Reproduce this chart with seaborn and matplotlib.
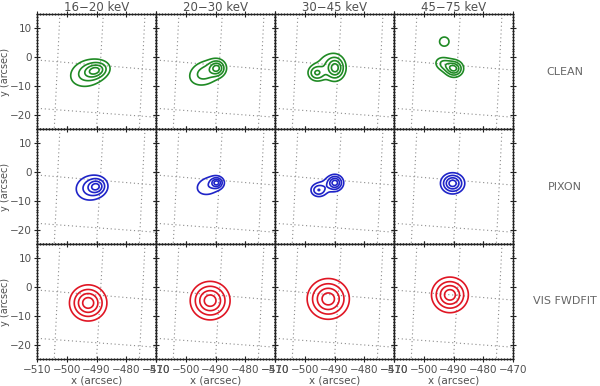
import numpy as np
import matplotlib
matplotlib.use("Agg")
import matplotlib.pyplot as plt
from matplotlib.ticker import MultipleLocator
import seaborn as sns

# energy bands (columns) and imaging methods (rows)
bands = ["16\u221220 keV", "20\u221230 keV", "30\u221245 keV", "45\u221275 keV"]
methods = ["CLEAN", "PIXON", "VIS FWDFIT"]
colors = ["#1f8a24", "#1f24c8", "#e01624"]

# source components per panel: (x0, y0, sigma_x, sigma_y, angle_deg, amp)
clean_src = [
    [(-490.2, -4.6, 2.4, 1.6, 15, 1.0), (-493.0, -5.6, 4.0, 3.0, 20, 0.65)],
    [(-489.5, -3.8, 1.6, 1.6, 0, 1.0), (-493.5, -5.5, 3.6, 2.6, 25, 0.6)],
    [(-489.7, -3.8, 1.8, 2.3, 0, 1.0), (-496.0, -5.5, 1.7, 1.6, 0, 0.7),
     (-492.0, -3.0, 3.2, 3.2, 0, 0.3)],
    [(-489.8, -4.0, 1.7, 1.6, 0, 1.0), (-493.0, -2.5, 2.0, 1.5, -20, 0.5),
     (-493.1, 5.4, 1.3, 1.3, 0, 0.35)],
]
pixon_src = [
    [(-490.0, -5.0, 1.8, 1.6, 15, 1.0), (-492.0, -5.5, 3.3, 2.8, 15, 0.7)],
    [(-489.6, -3.7, 1.2, 1.1, 0, 1.0), (-492.3, -4.8, 3.2, 2.3, 20, 0.4)],
    [(-489.8, -3.7, 1.5, 1.5, 0, 1.0), (-495.4, -6.3, 1.5, 1.3, 0, 0.55),
     (-493.0, -4.8, 2.5, 2.0, 20, 0.2)],
    [(-490.3, -3.9, 2.1, 1.9, 0, 1.0)],
]
fwdfit_src = [
    [(-492.8, -5.5, 3.23, 3.23, 0, 1.0)],
    [(-491.8, -4.7, 3.44, 3.44, 0, 1.0)],
    [(-492.1, -4.1, 3.64, 3.64, 0, 1.0)],
    [(-491.2, -2.7, 3.18, 3.18, 0, 1.0)],
]
sources = [clean_src, pixon_src, fwdfit_src]
levels = [0.15, 0.35, 0.6, 0.85]

# heliographic grid (dotted), straight approximations
lat_y_left = [-1.0, -17.8]
lat_y_right = [-4.5, -20.9]
lon_x_top = [-502.3, -487.7, -473.7]
lon_x_bottom = [-504.2, -490.0, -475.6]

xlim = (-510, -470)
ylim = (-25, 15)
xticks = [-510, -500, -490, -480, -470]
yticks = [-20, -10, 0, 10]


def model(X, Y, comps):
    z = np.zeros_like(X)
    for x0, y0, sx, sy, ang, amp in comps:
        a = np.deg2rad(ang)
        dx, dy = X - x0, Y - y0
        u = dx * np.cos(a) + dy * np.sin(a)
        v = -dx * np.sin(a) + dy * np.cos(a)
        z += amp * np.exp(-0.5 * ((u / sx) ** 2 + (v / sy) ** 2))
    return z / z.max()


sns.set_theme(style="ticks")
plt.rcParams["font.family"] = ["DejaVu Sans"]
text_col = "#505050"

fig = plt.figure(figsize=(6, 3.86), dpi=100)
W, H = 600, 386
left0, top0 = 37, 14
pw, ph = 119, 115

xg = np.linspace(-510, -470, 401)
yg = np.linspace(-25, 15, 401)
X, Y = np.meshgrid(xg, yg)

for r in range(3):
    for c in range(4):
        x_px = left0 + c * pw
        y_px = top0 + r * ph
        ax = fig.add_axes([x_px / W, 1 - (y_px + ph) / H, pw / W, ph / H])

        for yl, yr in zip(lat_y_left, lat_y_right):
            ax.plot(xlim, [yl, yr], ls=(0, (1, 2.5)), color="#8a8a8a", lw=0.8)
        for xt, xb in zip(lon_x_top, lon_x_bottom):
            ax.plot([xt, xb], [ylim[1], ylim[0]], ls=(0, (1, 2.5)),
                    color="#8a8a8a", lw=0.8)

        Z = model(X, Y, sources[r][c])
        ax.contour(X, Y, Z, levels=levels, colors=colors[r], linewidths=1.2)

        ax.set_xlim(*xlim)
        ax.set_ylim(*ylim)
        ax.set_xticks(xticks)
        ax.set_yticks(yticks)
        ax.xaxis.set_minor_locator(MultipleLocator(1))
        ax.yaxis.set_minor_locator(MultipleLocator(1))
        ax.tick_params(which="both", direction="inout", top=True, right=True,
                       colors="#222222", labelcolor=text_col, labelsize=7.5,
                       pad=2)
        ax.tick_params(which="major", length=4, width=0.8)
        ax.tick_params(which="minor", length=2, width=0.8)
        for s in ax.spines.values():
            s.set_linewidth(1.0)
            s.set_color("#222222")

        if c == 0:
            ax.set_ylabel("y (arcsec)", fontsize=7, color=text_col)
            ax.yaxis.set_label_coords(-0.225, 0.5)
        else:
            ax.tick_params(labelleft=False)
        if r == 2:
            ax.set_xlabel("x (arcsec)", fontsize=7.5, color=text_col)
            ax.xaxis.set_label_coords(0.5, -0.14)
        else:
            ax.tick_params(labelbottom=False)
        if r == 0:
            ax.set_title(bands[c], fontsize=8.5, color=text_col, pad=2)
        if c == 3:
            ax.text(1.44, 0.5, methods[r], transform=ax.transAxes,
                    ha="center", va="center", fontsize=8, color="#666666")

fig.savefig("out.png", dpi=100)
